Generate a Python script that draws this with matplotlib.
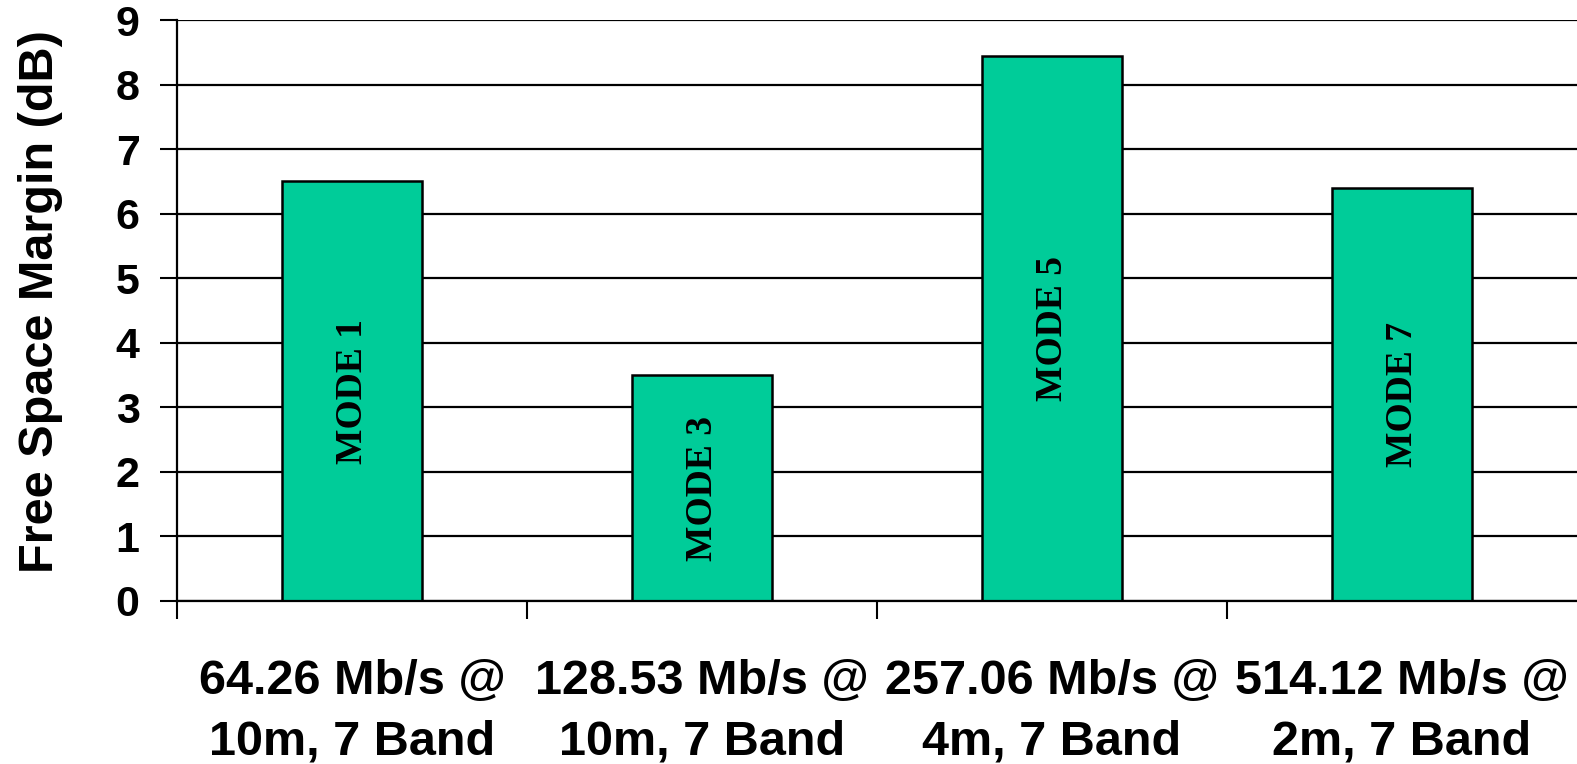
import matplotlib
matplotlib.use("Agg")
import matplotlib.pyplot as plt
import numpy as np

categories = ["64.26 Mb/s @\n10m, 7 Band",
              "128.53 Mb/s @\n10m, 7 Band",
              "257.06 Mb/s @\n4m, 7 Band",
              "514.12 Mb/s @\n2m, 7 Band"]
modes = ["MODE 1", "MODE 3", "MODE 5", "MODE 7"]
margin_db = [6.5, 3.5, 8.45, 6.4]
y_ticks = list(range(0, 10))

W, H = 1577, 764
fig = plt.figure(figsize=(W / 100, H / 100), dpi=100)
ax = fig.add_axes([177 / W, 1 - 601 / H, 1 - 177 / W, (601 - 20) / H])

x = np.arange(len(categories))
ax.bar(x, margin_db, width=0.4, color="#00CC99", edgecolor="black",
       linewidth=1.8, zorder=3)

for xi, v, m in zip(x, margin_db, modes):
    ax.text(xi, v / 2, m, rotation=90, ha="center", va="center",
            family="Liberation Serif", fontweight="bold", fontsize=27,
            color="black", zorder=4)

ax.set_xlim(-0.5, 3.5)
ax.set_ylim(0, 9)
ax.set_yticks(y_ticks)
ax.set_yticklabels([str(t) for t in y_ticks], family="Liberation Sans",
                   fontweight="bold", fontsize=31)
ax.yaxis.grid(True, color="black", linewidth=1.6, zorder=0)
ax.tick_params(axis="y", length=12, width=1.5, pad=15)

# boundaries between categories carry the tick marks; labels sit on minor ticks
ax.set_xticks(np.arange(-0.5, 3.5, 1.0))
ax.set_xticklabels([])
ax.set_xticks(x, minor=True)
ax.set_xticklabels(categories, minor=True, family="Liberation Sans",
                   fontweight="bold", fontsize=35, linespacing=1.42)
ax.tick_params(axis="x", which="major", length=13, width=1.5)
ax.tick_params(axis="x", which="minor", length=0, pad=42)

for s in ["top", "right"]:
    ax.spines[s].set_visible(False)
for s in ["left", "bottom"]:
    ax.spines[s].set_linewidth(1.6)
    ax.spines[s].set_zorder(5)

ax.set_ylabel("Free Space Margin (dB)", family="Liberation Sans",
              fontweight="bold", fontsize=35, labelpad=38, y=0.515)

fig.savefig("out.png", dpi=100)
